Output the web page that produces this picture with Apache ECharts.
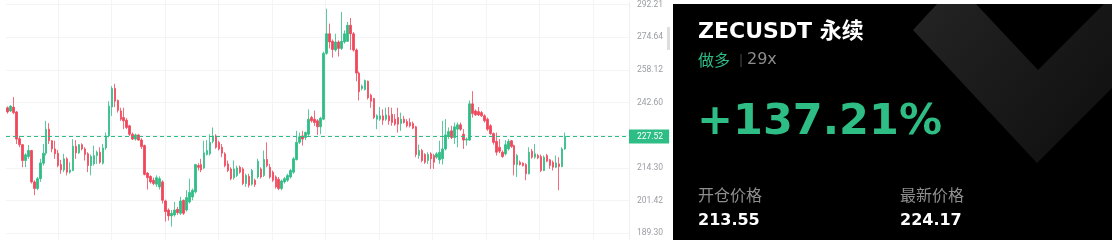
<!DOCTYPE html>
<html><head><meta charset="utf-8">
<script src="https://cdn.jsdelivr.net/npm/echarts@6/dist/echarts.min.js"></script>
<style>html,body{margin:0;padding:0;background:#fff}#c{width:1112px;height:243px}</style>
</head><body><div id="c"></div>
<script>
// [open, close, low, high]
const candles = [
[240.24,238.33,237.59,240.83],[238.77,240.98,238.33,241.42],[240.54,238.03,237.30,245.11],[238.33,226.36,224.28,238.77],
[226.50,224.00,222.89,227.74],[224.00,217.35,214.58,224.28],[217.35,219.70,214.58,220.40],[219.01,221.51,218.04,223.87],
[221.51,208.71,208.06,221.78],[208.71,206.10,203.50,209.36],[206.10,210.01,205.45,210.66],[210.01,216.37,208.71,218.04],
[216.24,220.40,215.27,224.28],[220.40,230.67,219.43,234.35],[230.67,225.66,224.28,233.32],[225.66,222.20,220.81,225.94],
[222.20,220.12,218.04,225.66],[220.40,215.27,214.58,221.78],[215.69,213.52,211.96,217.62],[213.52,218.04,212.61,220.12],
[218.04,212.61,211.31,218.73],[212.61,213.52,211.96,216.65],[213.26,223.31,213.00,226.36],[223.31,220.54,218.04,225.94],
[220.54,224.00,220.12,224.28],[224.00,222.20,221.51,224.55],[222.20,219.84,217.35,222.89],[220.12,215.27,212.61,220.81],
[215.27,219.01,211.31,219.84],[215.96,219.43,215.27,223.59],[219.43,220.81,215.96,221.51],[220.81,216.65,215.96,222.89],
[216.24,222.62,215.69,224.28],[222.62,227.74,221.78,229.20],[227.74,240.98,227.05,243.23],[240.54,249.19,236.56,250.28],
[249.19,243.23,240.54,251.38],[243.54,239.06,238.03,244.01],[238.77,235.09,234.35,240.24],[235.82,234.35,230.67,240.24],
[234.64,231.41,230.67,235.53],[232.14,228.46,227.74,232.58],[228.46,226.36,225.94,229.20],[226.36,228.17,225.66,228.75],
[228.17,225.94,225.66,228.46],[225.94,223.17,222.20,226.77],[223.59,211.70,211.31,224.00],[212.22,210.40,205.71,212.61],
[210.92,208.71,208.06,211.31],[209.36,208.06,207.40,210.40],[207.80,210.40,206.75,211.31],[206.75,210.01,205.71,210.92],
[208.71,201.55,200.32,209.36],[201.30,197.26,193.58,201.81],[197.87,195.67,193.95,198.48],[195.67,196.65,191.75,197.87],
[196.03,197.87,195.42,200.93],[198.12,196.89,196.03,199.09],[196.65,201.30,196.03,202.85],[201.55,196.65,196.03,201.81],
[197.87,202.59,197.26,205.45],[200.93,204.54,200.32,210.01],[202.85,205.45,201.55,206.10],[204.80,215.69,204.15,215.96],
[215.27,214.58,213.26,216.24],[215.69,213.52,212.61,218.04],[214.30,220.54,213.78,225.66],[219.84,221.51,219.43,225.94],
[220.12,224.97,219.43,228.46],[225.39,227.74,224.55,231.41],[227.74,222.89,222.20,228.46],[224.97,222.20,221.51,225.66],
[222.89,220.40,218.73,224.28],[220.12,215.27,214.58,220.81],[215.96,213.26,212.61,217.35],[213.91,210.01,209.36,214.58],
[210.40,213.91,209.62,217.35],[211.31,214.30,210.66,215.27],[214.58,212.61,211.96,215.27],[213.91,208.06,207.40,214.58],
[208.06,211.31,206.75,211.96],[210.92,207.40,206.49,211.96],[207.80,213.26,207.27,213.91],[209.36,207.67,206.75,210.01],
[210.66,217.07,210.01,218.04],[213.91,210.66,210.01,214.58],[211.31,217.76,210.66,221.51],[217.76,215.27,214.58,224.97],
[214.58,210.66,210.01,215.96],[212.61,209.36,208.71,213.26],[210.66,206.75,206.10,211.31],[209.75,206.10,205.45,210.66],
[206.10,209.10,205.45,209.62],[208.71,210.01,208.06,210.66],[209.36,211.31,208.71,211.96],[210.66,213.26,210.01,213.91],
[212.61,218.04,211.96,218.73],[217.76,224.97,217.35,229.93],[224.97,227.33,224.28,229.20],[227.74,226.36,223.59,229.93],
[227.05,229.20,225.94,229.64],[228.46,235.09,227.74,239.51],[235.82,234.35,233.61,236.56],[235.09,233.61,232.14,238.92],
[234.35,231.70,228.17,235.09],[231.70,235.53,228.46,236.12],[235.09,266.38,234.64,267.21],[266.38,276.43,265.55,289.88],
[276.43,272.16,268.86,281.81],[272.49,268.36,264.23,273.48],[268.03,272.16,267.21,276.43],[272.16,268.86,264.73,272.99],
[268.86,272.49,268.03,288.09],[272.16,276.43,271.34,278.22],[272.49,280.91,272.16,282.71],[280.91,276.43,268.03,284.86],
[276.43,268.03,267.21,277.32],[268.03,256.55,252.63,268.86],[256.55,247.61,243.54,257.34],[249.19,250.28,248.24,251.06],
[248.71,252.95,248.24,253.42],[252.63,244.79,244.01,252.95],[246.05,243.23,240.24,246.67],[244.48,235.82,235.09,244.79],
[235.09,236.56,230.67,237.30],[235.09,236.56,234.35,240.54],[236.56,234.64,232.58,239.51],[235.09,237.00,234.35,240.24],
[236.56,234.35,232.58,240.54],[237.30,233.61,232.14,240.24],[235.09,232.88,232.14,237.30],[235.82,232.88,229.20,240.24],
[233.17,235.09,229.93,238.03],[235.09,233.61,233.17,236.56],[234.05,232.14,231.41,235.09],[233.61,232.14,231.41,235.53],
[233.17,231.11,230.67,234.05],[231.70,219.84,218.73,232.14],[219.43,221.51,218.04,224.00],[221.51,217.35,216.65,222.20],
[219.84,216.65,215.96,220.40],[217.35,219.84,215.96,220.81],[220.12,218.04,213.91,220.81],[219.43,216.65,213.91,220.12],
[218.73,220.12,218.04,220.81],[217.62,220.81,215.96,225.66],[218.04,222.20,215.69,234.35],[222.20,228.17,221.51,235.09],
[227.74,229.64,226.36,231.41],[229.93,227.05,226.36,232.14],[227.05,231.70,224.28,233.61],[230.67,232.58,222.89,233.61],
[232.58,230.67,229.93,233.61],[228.46,225.94,222.20,230.67],[225.94,226.36,223.59,227.05],[225.94,242.01,225.66,243.54],
[242.01,237.59,235.82,247.93],[238.77,237.00,236.56,239.51],[238.48,237.00,236.56,240.54],[238.03,236.56,236.12,238.77],
[236.56,234.35,233.61,237.30],[235.09,230.67,229.93,235.82],[232.14,228.75,228.17,232.88],[228.75,224.97,224.00,229.20],
[225.39,220.81,219.43,229.20],[222.89,221.23,220.40,226.36],[220.81,219.01,218.46,221.51],[220.12,224.00,219.43,225.94],
[222.20,225.39,221.51,226.36],[225.66,223.17,222.62,225.94],[223.59,215.69,211.31,224.00],[215.69,219.43,210.66,220.12],
[216.65,215.69,215.27,217.35],[216.24,215.27,214.85,216.65],[215.69,211.96,209.36,216.24],[211.96,220.81,211.70,222.89],
[221.23,218.73,218.04,222.20],[218.73,220.12,218.04,224.28],[219.43,218.46,217.90,220.12],[219.01,213.26,212.61,219.84],
[213.26,218.73,213.00,219.43],[219.43,217.07,216.65,220.12],[217.62,215.27,213.91,218.04],[216.65,214.58,213.26,217.35],
[214.58,216.37,214.30,219.43],[215.96,214.85,205.45,218.73],[214.85,222.20,214.58,222.89],[222.20,227.52,221.78,229.20]
];
const emptySlots = 21;
const yTickValues = [189.30, 201.42, 214.30, 228.02, 242.60, 258.12, 274.64, 292.21];
const yLabelValues = [189.30, 201.42, 214.30, 242.60, 258.12, 274.64, 292.21];
const yMin = 186.93, yMax = 293.47;
const lastPrice = 227.52;
const symbolTitle = 'ZECUSDT 永续';
const sideText = '做多';
const leverage = '29x';
const pnlText = '+137.21%';
const entryLabel = '开仓价格', entryPrice = '213.55';
const markLabel = '最新价格', markPrice = '224.17';

const UP = '#2ebd85', DOWN = '#f0465b';
const cats = [];
for (let i = 0; i < candles.length + emptySlots; i++) cats.push(String(i));

const chart = echarts.init(document.getElementById('c'), null, {renderer: 'canvas'});
const latin = '"DejaVu Sans", "Noto Sans CJK SC", sans-serif';
const cjk = '"Noto Sans CJK SC", sans-serif';
chart.setOption({
  animation: false,
  backgroundColor: '#ffffff',
  grid: [
    {left: 6, right: 483, top: 0, bottom: 3},
    {left: 4.5, width: 588.5, top: 0, bottom: 3}
  ],
  xAxis: [
    {type: 'category', gridIndex: 0, data: cats, boundaryGap: true,
     axisLine: {show: false}, axisTick: {show: false}, axisLabel: {show: false}, splitLine: {show: false}},
    {type: 'value', gridIndex: 1, min: 0, max: 11, interval: 1,
     axisLine: {show: false}, axisTick: {show: false}, axisLabel: {show: false},
     splitLine: {show: true, showMinLine: false, lineStyle: {color: '#f3f4f6', width: 1}}}
  ],
  yAxis: [
    {type: 'log', gridIndex: 0, position: 'right', min: yMin, max: yMax, logBase: 10,
     axisLine: {show: true, lineStyle: {color: '#eeeff1'}},
     axisTick: {show: false, customValues: yTickValues},
     axisLabel: {customValues: yLabelValues, formatter: v => Number(v).toFixed(2), color: '#9a9da3',
                 fontSize: 8.5, fontFamily: 'Roboto', margin: 8},
     splitLine: {show: true, lineStyle: {color: '#f3f4f6', width: 1}}},
    {type: 'value', gridIndex: 1, min: 0, max: 1, show: false, splitLine: {show: false}}
  ],
  series: [{
    type: 'candlestick', xAxisIndex: 0, yAxisIndex: 0, data: candles, barWidth: 2,
    itemStyle: {color: UP, color0: DOWN, borderColor: UP, borderColor0: DOWN, borderWidth: 0.8},
    markLine: {
      silent: true, symbol: ['none', 'none'], animation: false,
      data: [{yAxis: lastPrice}],
      lineStyle: {color: UP, type: [4, 3], width: 1},
      label: {show: true, position: 'end', distance: 0, formatter: lastPrice.toFixed(2), color: '#ffffff',
              backgroundColor: UP, padding: [3, 6, 3, 8], fontSize: 8.5, lineHeight: 8, fontFamily: 'Roboto'}
    }
  }],
  graphic: [
    {type: 'rect', shape: {x: 667, y: 27, width: 3, height: 23}, style: {fill: '#dedede'}},
    {type: 'rect', shape: {x: 673, y: 4, width: 439, height: 236}, style: {fill: '#000000'}, z: 10},
    {type: 'polygon', z: 11,
     shape: {points: [[937,4],[913,30],[1037,163],[1112,88],[1112,4],[1104,4],[1038,70],[976,4]]},
     style: {fill: new echarts.graphic.LinearGradient(0, 0, 1, 1, [
       {offset: 0, color: '#242424'}, {offset: 1, color: '#0e0e0e'}])}},
    {type: 'text', z: 12, x: 698, y: 32.5, style: {text: symbolTitle, fill: '#ffffff',
      font: 'bold 22px ' + latin, verticalAlign: 'middle'}},
    {type: 'text', z: 12, x: 698, y: 60, style: {text: sideText, fill: UP,
      font: '16px ' + cjk, verticalAlign: 'middle'}},
    {type: 'rect', z: 12, shape: {x: 740.5, y: 54, width: 1, height: 13}, style: {fill: '#4a4a4a'}},
    {type: 'text', z: 12, x: 747, y: 60, style: {text: leverage, fill: '#8c8c8c',
      font: '16px ' + latin, verticalAlign: 'middle'}},
    {type: 'text', z: 12, x: 697, y: 123, style: {text: pnlText, fill: UP,
      font: 'bold 43px ' + latin, verticalAlign: 'middle'}},
    {type: 'text', z: 12, x: 698, y: 194.5, style: {text: entryLabel, fill: '#8e8e8e',
      font: '16px ' + cjk, verticalAlign: 'middle'}},
    {type: 'text', z: 12, x: 698, y: 221, style: {text: entryPrice, fill: '#ffffff',
      font: 'bold 16px ' + latin, verticalAlign: 'middle'}},
    {type: 'text', z: 12, x: 900, y: 194.5, style: {text: markLabel, fill: '#8e8e8e',
      font: '16px ' + cjk, verticalAlign: 'middle'}},
    {type: 'text', z: 12, x: 900, y: 221, style: {text: markPrice, fill: '#ffffff',
      font: 'bold 16px ' + latin, verticalAlign: 'middle'}}
  ]
});
</script>
</body></html>
